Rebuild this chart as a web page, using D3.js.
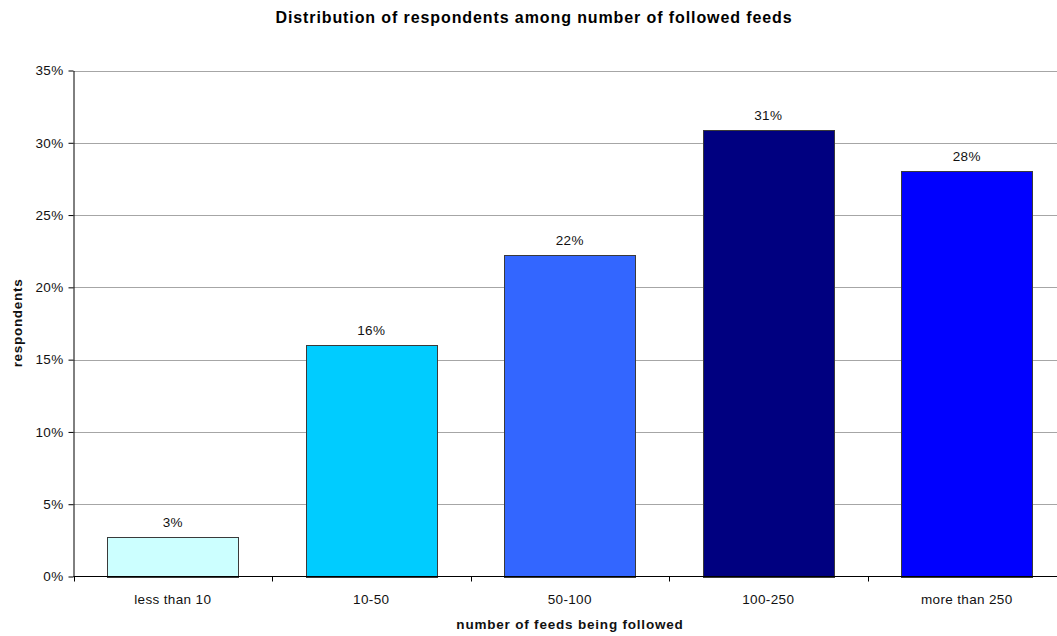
<!DOCTYPE html>
<html>
<head>
<meta charset="utf-8">
<script src="https://cdn.jsdelivr.net/npm/d3@7"></script>
<style>
  html, body { margin: 0; padding: 0; background: #fff; }
  svg { display: block; font-family: "Liberation Sans", Arial, sans-serif; }
</style>
</head>
<body>
<svg id="chart" width="1057" height="636"></svg>
<script>
// Share of respondents by number of followed feeds
const categories = ["less than 10", "10-50", "50-100", "100-250", "more than 250"];
const shares = [2.72, 15.98, 22.27, 30.85, 28.08];
const barColors = ["#CCFFFF", "#00CCFF", "#3366FF", "#000080", "#0000FF"];
const yTicks = [0, 5, 10, 15, 20, 25, 30, 35];

const svg = d3.select("#chart");
const margin = { left: 73.5, right: -9, top: 70.5, bottom: 60 };
const W = 1057, H = 636;
const x0 = margin.left, x1 = W - margin.right;
const yBottom = 576.5, yTop = margin.top;

const x = d3.scaleBand().domain(categories).range([x0, x1]).paddingInner(0.34).paddingOuter(0.17);
const y = d3.scaleLinear().domain([0, 35]).range([yBottom, yTop]);

const labelSize = 13.5, labelSpacing = 0.35;

// horizontal gridlines
svg.append("g")
  .selectAll("line")
  .data(yTicks.filter(d => d > 0))
  .join("line")
  .attr("x1", x0).attr("x2", W)
  .attr("y1", d => Math.round(y(d)) + 0.5).attr("y2", d => Math.round(y(d)) + 0.5)
  .attr("stroke", "#a6a6a6").attr("stroke-width", 1);

// bars
svg.append("g")
  .selectAll("rect")
  .data(categories)
  .join("rect")
  .attr("x", d => Math.round(x(d)) + 0.5)
  .attr("y", (d, i) => Math.round(y(shares[i])) + 0.5)
  .attr("width", Math.round(x.bandwidth()))
  .attr("height", (d, i) => Math.round(y(0)) - Math.round(y(shares[i])))
  .attr("fill", (d, i) => barColors[i])
  .attr("stroke", "#3a3a3a").attr("stroke-width", 1);

// value labels
svg.append("g")
  .selectAll("text")
  .data(categories)
  .join("text")
  .attr("x", d => x(d) + x.bandwidth() / 2)
  .attr("y", (d, i) => y(shares[i]) - 10)
  .attr("text-anchor", "middle")
  .attr("font-size", labelSize).attr("letter-spacing", labelSpacing).attr("fill", "#111")
  .text((d, i) => Math.round(shares[i]) + "%");

// y axis
const yAxis = d3.axisLeft(y).tickValues(yTicks).tickFormat(d => d + "%").tickSize(5).tickSizeOuter(0);
const gy = svg.append("g").attr("transform", `translate(${x0},0)`).call(yAxis);
gy.select(".domain").attr("stroke", "#000");
gy.selectAll(".tick line").attr("stroke", "#000");
gy.selectAll(".tick text").attr("font-size", labelSize).attr("letter-spacing", labelSpacing).attr("fill", "#111")
  .attr("font-family", "Liberation Sans, Arial, sans-serif").attr("x", -10);

// x axis with ticks at category boundaries
svg.append("line").attr("x1", x0).attr("x2", W).attr("y1", yBottom).attr("y2", yBottom)
  .attr("stroke", "#000").attr("stroke-width", 1);
const step = x.step();
const bounds = d3.range(categories.length + 1).map(i => x0 + i * step);
svg.append("g").selectAll("line").data(bounds).join("line")
  .attr("x1", d => Math.round(d) + 0.5).attr("x2", d => Math.round(d) + 0.5)
  .attr("y1", yBottom).attr("y2", yBottom + 5)
  .attr("stroke", "#000");
svg.append("g").selectAll("text").data(categories).join("text")
  .attr("x", d => x(d) + x.bandwidth() / 2)
  .attr("y", yBottom + 27)
  .attr("text-anchor", "middle")
  .attr("font-size", labelSize).attr("letter-spacing", labelSpacing).attr("fill", "#111")
  .text(d => d);

// titles
svg.append("text").attr("x", 534).attr("y", 23).attr("text-anchor", "middle")
  .attr("font-size", 16).attr("letter-spacing", 0.9).attr("font-weight", "bold").attr("fill", "#000")
  .text("Distribution of respondents among number of followed feeds");
svg.append("text").attr("x", 570).attr("y", 629).attr("text-anchor", "middle")
  .attr("font-size", 13.5).attr("letter-spacing", 0.8).attr("font-weight", "bold").attr("fill", "#111")
  .text("number of feeds being followed");
svg.append("text").attr("transform", "translate(22,323) rotate(-90)").attr("text-anchor", "middle")
  .attr("font-size", 13.5).attr("letter-spacing", 0.7).attr("font-weight", "bold").attr("fill", "#111")
  .text("respondents");
</script>
</body>
</html>
